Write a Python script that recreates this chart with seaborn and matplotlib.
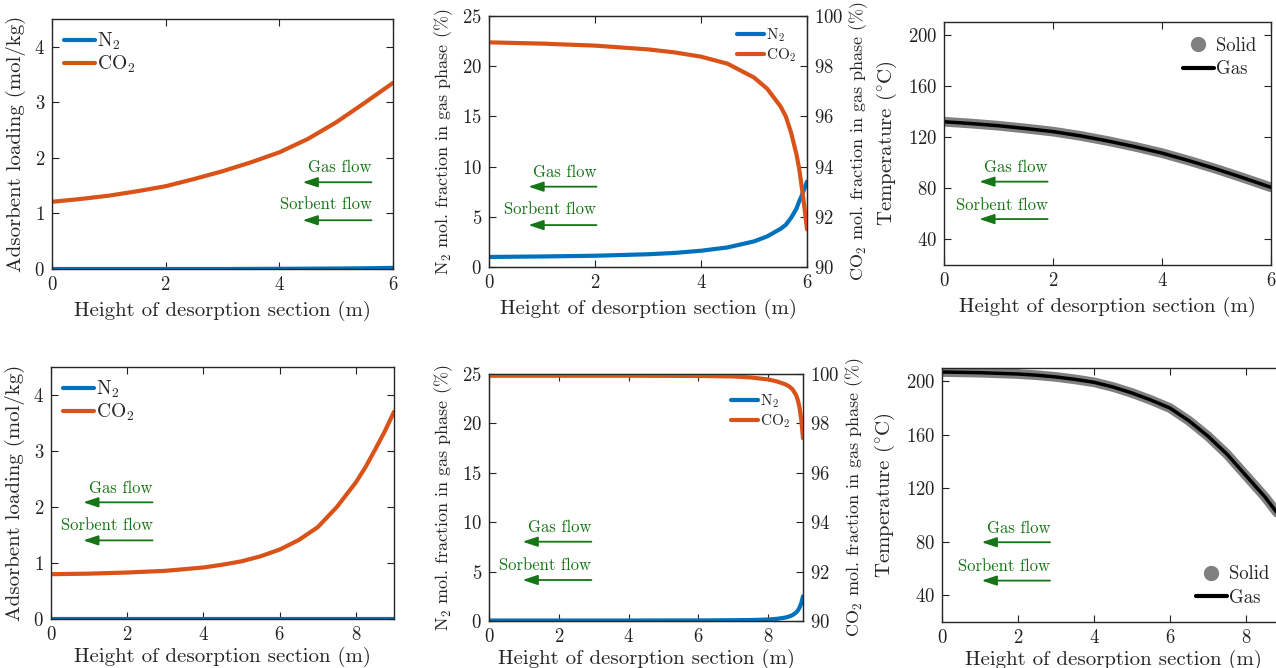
import numpy as np
import pandas as pd
import matplotlib
matplotlib.use('Agg')
import matplotlib.pyplot as plt
from matplotlib.lines import Line2D
import seaborn as sns

# ---- data ----
# 6 m desorption section
h6 = [0, 0.5, 1, 1.5, 2, 2.5, 3, 3.5, 4, 4.5, 5, 5.5, 6]
n2_load_6 = [0.0, 0.0, 0.0, 0.0, 0.0, 0.0, 0.0, 0.002, 0.004, 0.006, 0.009, 0.013, 0.02]
co2_load_6 = [1.21, 1.26, 1.32, 1.40, 1.49, 1.62, 1.76, 1.92, 2.10, 2.34, 2.64, 2.99, 3.35]

h6_frac = [0, 1, 2, 3, 3.5, 4, 4.5, 5, 5.25, 5.5, 5.6, 5.7, 5.8, 5.85, 5.9, 5.95, 6]
n2_frac_6 = [1.0, 1.05, 1.12, 1.27, 1.4, 1.62, 1.95, 2.55, 3.05, 3.8, 4.2, 4.9, 5.8,
             6.5, 7.1, 7.8, 8.5]
co2_frac_6 = [98.95, 98.9, 98.82, 98.67, 98.55, 98.38, 98.1, 97.55, 97.1, 96.4, 96.0,
              95.35, 94.5, 93.95, 93.2, 92.4, 91.5]

h6_temp = [0, 0.5, 1, 1.5, 2, 2.5, 3, 3.5, 4, 4.5, 5, 5.5, 6]
t_gas_6 = [132.0, 130.6, 128.9, 126.7, 124.3, 121.0, 117.0, 112.5, 107.5, 101.5,
           95.0, 88.0, 80.7]
t_solid_6 = [132.0, 130.6, 128.9, 126.7, 124.3, 121.0, 117.0, 112.5, 107.5, 101.5,
             95.0, 88.0, 80.7]

# 9 m desorption section
h9 = [0, 1, 2, 3, 3.5, 4, 4.5, 5, 5.5, 6, 6.5, 7, 7.5, 8, 8.25, 8.5, 8.75, 9]
n2_load_9 = [0.0] * 18
co2_load_9 = [0.80, 0.81, 0.83, 0.86, 0.89, 0.92, 0.97, 1.03, 1.12, 1.24, 1.41, 1.64,
              2.00, 2.44, 2.71, 3.02, 3.34, 3.70]

h9_frac = [0, 2, 4, 6, 7, 7.5, 8, 8.25, 8.5, 8.6, 8.7, 8.8, 8.85, 8.9, 8.95, 9]
n2_frac_9 = [0.05, 0.05, 0.05, 0.06, 0.08, 0.1, 0.15, 0.22, 0.35, 0.45, 0.6, 0.85,
             1.05, 1.35, 1.8, 2.5]
co2_frac_9 = [99.93, 99.93, 99.93, 99.92, 99.9, 99.86, 99.78, 99.7, 99.58, 99.5,
              99.38, 99.15, 98.95, 98.65, 98.15, 97.4]

h9_temp = [0, 1, 2, 2.5, 3, 3.5, 4, 4.5, 5, 5.5, 6, 6.5, 7, 7.5, 8, 8.5, 9]
t_gas_9 = [207, 206.5, 205.5, 204.6, 203.3, 201.5, 199.3, 195.8, 191.3, 186, 180,
           170.5, 159, 145.5, 129.5, 113.5, 95]
t_solid_9 = [207, 206.5, 205.5, 204.6, 203.3, 201.5, 199.3, 195.8, 191.3, 186, 180,
             170.5, 159, 145.5, 129.5, 113.5, 95]

XLABEL = 'Height of desorption section (m)'
BLUE = '#0072BD'
ORANGE = '#D95319'
GREEN = '#167516'

sns.set_style('ticks')
plt.rcParams['font.family'] = ['serif']
plt.rcParams['font.serif'] = ['cmr10', 'DejaVu Serif']
plt.rcParams['mathtext.fontset'] = 'cm'
plt.rcParams['axes.formatter.use_mathtext'] = True
plt.rcParams['axes.unicode_minus'] = False

W, H = 1276, 668
fig = plt.figure(figsize=(W / 100, H / 100), dpi=100)


def box(x0, x1, y0, y1):
    # pixel box -> figure fraction
    return [x0 / W, (H - y1) / H, (x1 - x0) / W, (y1 - y0) / H]


def style(ax, right=True):
    ax.tick_params(direction='in', top=True, right=right, length=5,
                   width=0.8, labelsize=13.5, colors='#222222', pad=5)
    for s in ax.spines.values():
        s.set_visible(True)
        s.set_linewidth(1.0)
        s.set_color('#262626')


def flows(ax, xr, xh, ya, yt, ya2, yt2):
    for y_arr, y_txt, label in [(ya, yt, 'Gas flow'), (ya2, yt2, 'Sorbent flow')]:
        ax.annotate('', xy=(xh, y_arr), xytext=(xr, y_arr), xycoords='axes fraction',
                    arrowprops=dict(arrowstyle='-|>,head_length=0.9,head_width=0.3',
                                    color=GREEN, lw=1.3, shrinkA=0, shrinkB=0))
        ax.text(xr, y_txt, label, transform=ax.transAxes, ha='right', va='center',
                color=GREEN, fontsize=12)


def loading_panel(ax, h, n2, co2, xmax, xticks, pad):
    df = pd.DataFrame({'h': h, 'N2': n2, 'CO2': co2})
    sns.lineplot(data=df, x='h', y='N2', ax=ax, color=BLUE, lw=3, label=r'N$_2$')
    sns.lineplot(data=df, x='h', y='CO2', ax=ax, color=ORANGE, lw=3, label=r'CO$_2$')
    ax.set_xlim(0, xmax)
    ax.set_ylim(0, 4.5)
    ax.set_xticks(xticks)
    ax.set_yticks([0, 1, 2, 3, 4])
    ax.set_xlabel(XLABEL, fontsize=15, labelpad=pad)
    ax.set_ylabel('Adsorbent loading (mol/kg)', fontsize=15, labelpad=6)
    style(ax)
    ax.legend(loc='upper left', frameon=False, fontsize=14, handlelength=1.6,
              handletextpad=0.1, borderaxespad=0.3, borderpad=0.3, labelspacing=0.1)


def fraction_panel(ax, h, n2, co2, xmax, xticks, pad):
    df = pd.DataFrame({'h': h, 'N2': n2, 'CO2': co2})
    ax2 = ax.twinx()
    sns.lineplot(data=df, x='h', y='N2', ax=ax, color=BLUE, lw=3, legend=False)
    sns.lineplot(data=df, x='h', y='CO2', ax=ax2, color=ORANGE, lw=3, legend=False)
    ax.set_xlim(0, xmax)
    ax.set_ylim(0, 25)
    ax2.set_ylim(90, 100)
    ax.set_xticks(xticks)
    ax.set_yticks([0, 5, 10, 15, 20, 25])
    ax2.set_yticks([90, 92, 94, 96, 98, 100])
    ax.set_xlabel(XLABEL, fontsize=15, labelpad=pad)
    ax.set_ylabel(r'N$_2$ mol. fraction in gas phase (%)', fontsize=13, labelpad=5)
    ax2.set_ylabel(r'CO$_2$ mol. fraction in gas phase (%)', fontsize=13, labelpad=3)
    style(ax, right=False)
    ax2.tick_params(direction='in', length=5, width=0.8, labelsize=13.5,
                    colors='#222222', pad=5)
    handles = [Line2D([], [], color=BLUE, lw=3), Line2D([], [], color=ORANGE, lw=3)]
    return ax2, handles


def temp_panel(ax, h, ts, tg, xmax, xticks, loc, pad):
    df = pd.DataFrame({'h': h, 'solid': ts, 'gas': tg})
    sns.lineplot(data=df, x='h', y='solid', ax=ax, color='#808080', lw=7,
                 solid_capstyle='round', legend=False)
    sns.lineplot(data=df, x='h', y='gas', ax=ax, color='black', lw=2.5, legend=False)
    ax.set_xlim(0, xmax)
    ax.set_ylim(20, 210)
    ax.set_xticks(xticks)
    ax.set_yticks([40, 80, 120, 160, 200])
    ax.set_xlabel(XLABEL, fontsize=15, labelpad=pad)
    ax.set_ylabel(r'Temperature ($^{\circ}$C)', fontsize=15, labelpad=6)
    style(ax)
    handles = [Line2D([], [], marker='o', ls='none', color='#808080', ms=10),
               Line2D([], [], color='black', lw=3)]
    ax.legend(handles, ['Solid', 'Gas'], loc=loc, frameon=False, fontsize=13.5,
              handlelength=1.65, handletextpad=0.1, borderaxespad=0.4,
              labelspacing=0.3)


# top row: 6 m
ax = fig.add_axes(box(52, 393, 19, 269))
loading_panel(ax, h6, n2_load_6, co2_load_6, 6, [0, 2, 4, 6], 5)
flows(ax, 0.937, 0.735, 0.347, 0.405, 0.195, 0.258)

ax = fig.add_axes(box(489, 807, 16, 267))
ax2, hd = fraction_panel(ax, h6_frac, n2_frac_6, co2_frac_6, 6, [0, 2, 4, 6], 5)
flows(ax, 0.338, 0.124, 0.32, 0.378, 0.167, 0.228)
ax2.legend(hd, [r'N$_2$', r'CO$_2$'], loc='upper right', frameon=False, fontsize=11,
           handlelength=1.8, handletextpad=0.1, borderaxespad=0.4, borderpad=0.3,
           labelspacing=0.15)

ax = fig.add_axes(box(944, 1271, 22, 265))
temp_panel(ax, h6_temp, t_solid_6, t_gas_6, 6, [0, 2, 4, 6], 'upper right', 5)
flows(ax, 0.317, 0.108, 0.343, 0.40, 0.189, 0.247)

# bottom row: 9 m
ax = fig.add_axes(box(51, 394, 367, 619))
loading_panel(ax, h9, n2_load_9, co2_load_9, 9, [0, 2, 4, 6, 8], 2)
flows(ax, 0.296, 0.094, 0.463, 0.52, 0.312, 0.372)

ax = fig.add_axes(box(489, 803, 374, 621))
ax2, hd = fraction_panel(ax, h9_frac, n2_frac_9, co2_frac_9, 9, [0, 2, 4, 6, 8], 2)
flows(ax, 0.326, 0.107, 0.321, 0.378, 0.166, 0.226)
ax2.legend(hd, [r'N$_2$', r'CO$_2$'], loc='upper left', frameon=False, fontsize=11,
           handlelength=1.8, handletextpad=0.1, borderaxespad=0.0, borderpad=0.0,
           labelspacing=0.15, bbox_to_anchor=(0.77, 0.925))

ax = fig.add_axes(box(942, 1284, 368, 622))
temp_panel(ax, h9_temp, t_solid_9, t_gas_9, 9, [0, 2, 4, 6, 8], 'lower right', 2)
flows(ax, 0.316, 0.116, 0.314, 0.368, 0.163, 0.22)

fig.savefig('out.png', dpi=100)
